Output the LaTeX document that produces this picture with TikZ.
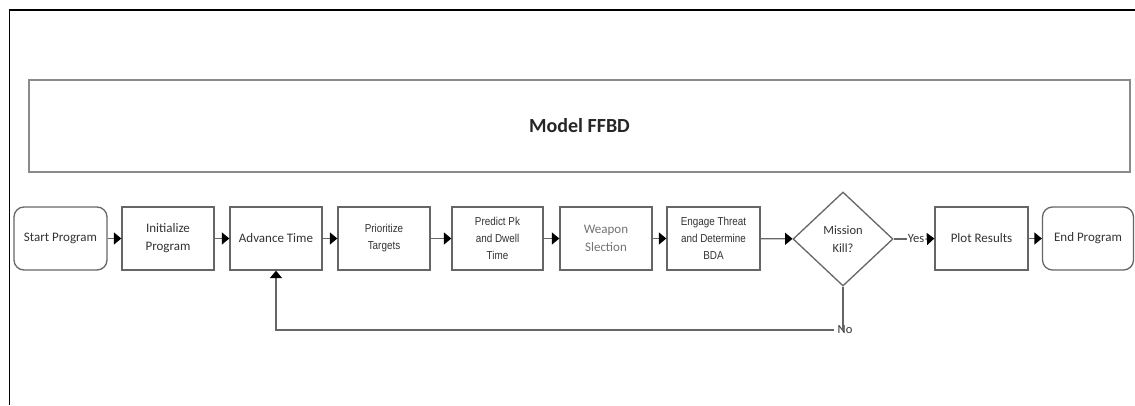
\documentclass[tikz,border=0pt]{standalone}
\usepackage{fontspec}
\setmainfont{Carlito}
\newfontfamily\arialf[FakeStretch=0.86]{Liberation Sans}
\usetikzlibrary{shapes.geometric,arrows.meta}
\definecolor{boxline}{HTML}{666666}
\definecolor{txt}{HTML}{333333}
\definecolor{titleline}{HTML}{8A8A8A}
\begin{document}
\begin{tikzpicture}[x=1pt,y=-1pt,
  every node/.style={text=txt, font=\fontsize{13}{18}\selectfont, align=center},
  blk/.style={draw=boxline, line width=1.3pt, minimum height=63pt, inner sep=2pt},
  rblk/.style={blk, rounded corners=10pt},
  ablk/.style={blk, font=\arialf\fontsize{11.5}{17}\selectfont},
  dec/.style={draw=boxline, line width=1.3pt, diamond, minimum width=100pt, minimum height=94pt, inner sep=0pt, font=\fontsize{12.5}{18}\selectfont},
  link/.style={draw=boxline, line width=1.3pt},
  conn/.style={link, -{Triangle[length=7.5pt,width=12pt,color=black]}},
  lbl/.style={inner sep=1pt, font=\fontsize{12.5}{15}\selectfont}
]
\useasboundingbox (0,0) rectangle (1135,405);
\fill[white] (0,0) rectangle (1135,405);
\coordinate (fbl) at (9.5,405);
\coordinate (ftl) at (9.5,10);
\coordinate (ftr) at (1135,10);
\draw[black, line width=1.2pt] (fbl) -- (ftl) -- (ftr);

\node[draw=titleline, line width=1.6pt, minimum width=1101pt, minimum height=92pt,
      font=\bfseries\fontsize{20}{24}\selectfont, text=black!85] (title) at (579.5,126) {Model FFBD};

\node[rblk, minimum width=93pt] (start) at (60.5,238.5) {Start Program};
\node[blk, minimum width=92pt] (init) at (168,238.5) {Initialize\\Program};
\node[blk, minimum width=92pt] (adv) at (276,238.5) {Advance Time};
\node[ablk, minimum width=92pt] (prio) at (384,238.5) {Prioritize\\Targets};
\node[ablk, minimum width=91pt] (pred) at (497.5,238.5) {Predict Pk\\and Dwell\\Time};
\node[blk, minimum width=92pt, text=black!55] (weap) at (606,238.5) {Weapon\\Slection};
\node[ablk, minimum width=93pt] (eng) at (713.5,238.5) {Engage Threat\\and Determine\\BDA};
\node[dec] (dia) at (843,239) {Mission\\Kill?};
\node[blk, minimum width=93pt] (plot) at (981.5,238.5) {Plot Results};
\node[rblk, minimum width=91pt] (endp) at (1088,238.5) {End Program};

\node[lbl] (yes) at (916,239) {Yes};
\node[lbl] (no) at (845,330) {No};

\draw[conn] (start) -- (init);
\draw[conn] (init) -- (adv);
\draw[conn] (adv) -- (prio);
\draw[conn] (prio) -- (pred);
\draw[conn] (pred) -- (weap);
\draw[conn] (weap) -- (eng);
\draw[conn] (eng) -- (dia);
\draw[link] (dia.east) -- (yes.west);
\draw[conn] (yes.east) -- (plot.west);
\draw[conn] (plot) -- (endp);
\draw[link] (dia.south) -- ([yshift=-6pt]dia.south |- no.north);
\draw[conn] ([xshift=-2pt]no.west) -| (adv.south);
\end{tikzpicture}
\end{document}
